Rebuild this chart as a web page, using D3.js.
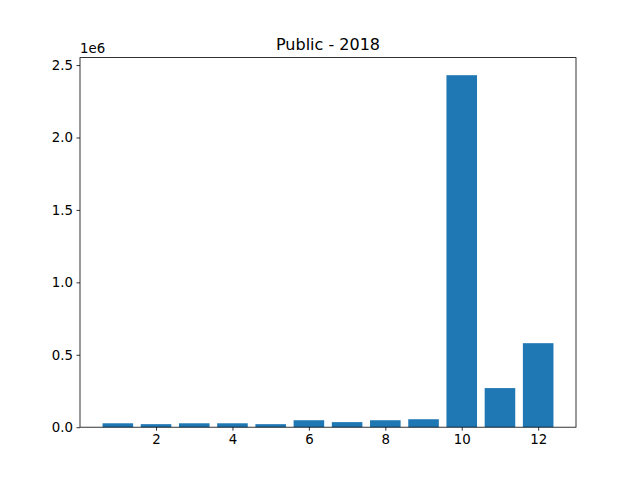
<!DOCTYPE html>
<html>
<head>
<meta charset="utf-8">
<script src="https://cdn.jsdelivr.net/npm/d3@7"></script>
<style>
  body { margin: 0; background: #fff; }
  text { font-family: "DejaVu Sans", sans-serif; }
</style>
</head>
<body>
<svg id="chart" width="640" height="480"></svg>
<script>
// data
var months = [1, 2, 3, 4, 5, 6, 7, 8, 9, 10, 11, 12];
var values = [27000, 21000, 27000, 27000, 21000, 48000, 35000, 48000, 55000, 2430000, 270000, 580000];
var xTicks = [2, 4, 6, 8, 10, 12];
var yTicks = [0, 0.5e6, 1e6, 1.5e6, 2e6, 2.5e6];

var W = 640, H = 480;
var m = { left: 80, right: 576, top: 57.6, bottom: 427.2 };

var svg = d3.select('#chart');

var x = d3.scaleLinear().domain([0.01, 12.99]).range([m.left, m.right]);
var y = d3.scaleLinear().domain([0, d3.max(values) * 1.05]).range([m.bottom, m.top]);

// bars
svg.append('g').selectAll('rect')
    .data(months)
    .enter().append('rect')
    .attr('x', function (d) { return x(d - 0.4); })
    .attr('width', function (d) { return x(d + 0.4) - x(d - 0.4); })
    .attr('y', function (d, i) { return y(values[i]); })
    .attr('height', function (d, i) { return y(0) - y(values[i]); })
    .attr('fill', '#1f77b4');

// axes
var xAxis = d3.axisBottom(x).tickValues(xTicks).tickSize(3.5).tickPadding(3.5);
var yAxis = d3.axisLeft(y).tickValues(yTicks).tickSize(3.5).tickPadding(3.5)
    .tickFormat(function (d) { return (d / 1e6).toFixed(1); });

var gx = svg.append('g').attr('transform', 'translate(0,' + m.bottom + ')').call(xAxis);
var gy = svg.append('g').attr('transform', 'translate(' + m.left + ',0)').call(yAxis);

[gx, gy].forEach(function (g) {
  g.select('.domain').remove();
  g.selectAll('text').style('font-size', '13.33px').attr('fill', '#000');
  g.selectAll('line').attr('stroke', '#000').attr('stroke-width', 0.8);
});
gx.selectAll('text').attr('dy', '0.71em');

// frame
svg.append('rect')
    .attr('x', m.left).attr('y', m.top)
    .attr('width', m.right - m.left).attr('height', m.bottom - m.top)
    .attr('fill', 'none').attr('stroke', '#000').attr('stroke-width', 0.8);

// offset label
svg.append('text')
    .attr('x', m.left).attr('y', m.top - 5)
    .style('font-size', '13.33px')
    .text('1e6');

// title
svg.append('text')
    .attr('x', (m.left + m.right) / 2).attr('y', m.top - 8)
    .attr('text-anchor', 'middle')
    .style('font-size', '16px')
    .text('Public - 2018');
</script>
</body>
</html>
